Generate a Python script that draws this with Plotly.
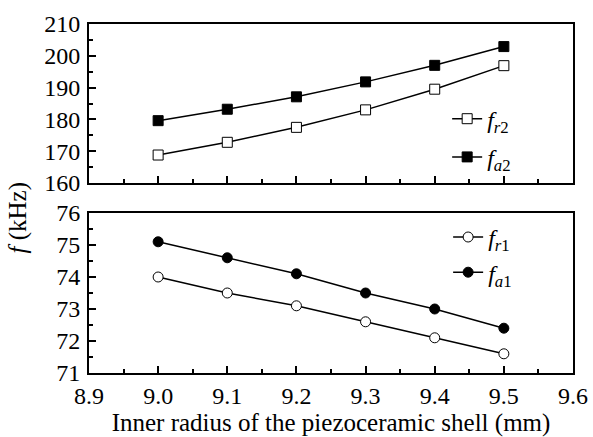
import plotly.graph_objects as go

radius = [9.0, 9.1, 9.2, 9.3, 9.4, 9.5]
fr2 = [168.8, 172.8, 177.5, 183.0, 189.5, 196.9]
fa2 = [179.6, 183.2, 187.1, 191.8, 197.0, 202.9]
fr1 = [74.0, 73.5, 73.1, 72.6, 72.1, 71.6]
fa1 = [75.1, 74.6, 74.1, 73.5, 73.0, 72.4]

FONT = "Liberation Serif"
fig = go.Figure()

def add(y, name, symbol, fill, xa, ya, leg, grp):
    fig.add_trace(go.Scatter(
        x=radius, y=y, name=name, mode="lines+markers",
        line=dict(color="black", width=1.5),
        marker=dict(symbol=symbol, size=10, color=fill, line=dict(color="black", width=1)),
        xaxis=xa, yaxis=ya, legend=leg, legendgroup=grp))

add(fr2, "<i>f</i><sub><i>r</i>2</sub>", "square", "white", "x", "y", "legend", "g1")
add(fa2, "<i>f</i><sub><i>a</i>2</sub>", "square", "black", "x", "y", "legend", "g2")
add(fr1, "<i>f</i><sub><i>r</i>1</sub>", "circle", "white", "x2", "y2", "legend2", "g3")
add(fa1, "<i>f</i><sub><i>a</i>1</sub>", "circle", "black", "x2", "y2", "legend2", "g4")

def axis_common():
    return dict(showline=True, linecolor="black", linewidth=2, mirror=True,
                ticks="inside", ticklen=7, tickwidth=1.5, tickcolor="black",
                showgrid=False, zeroline=False, automargin=False,
                tickfont=dict(family=FONT, size=24, color="black"))

def minor(d):
    return dict(dtick=d, ticks="inside", ticklen=4, tickcolor="black", tickwidth=1.5)

fig.update_layout(
    width=593, height=437,
    margin=dict(l=89, r=20, t=24, b=64, autoexpand=False),
    paper_bgcolor="white", plot_bgcolor="white",
    font=dict(family=FONT, color="black", size=24),
    xaxis=dict(domain=[0, 1], range=[8.9, 9.6], anchor="y", dtick=0.1, showticklabels=False,
               minor=minor(0.05), **axis_common()),
    yaxis=dict(domain=[0.5444, 1], range=[160, 210], anchor="x", dtick=10,
               minor=minor(5), ticklabelstandoff=2, **axis_common()),
    xaxis2=dict(domain=[0, 1], range=[8.9, 9.6], anchor="y2", dtick=0.1, tickformat=".1f",
                minor=minor(0.05), ticklabelstandoff=0,
                title=dict(text="Inner radius of the piezoceramic shell (mm)",
                           font=dict(family=FONT, size=25, color="black"), standoff=8),
                **axis_common()),
    yaxis2=dict(domain=[0, 0.4585], range=[71, 76], anchor="x2", dtick=1,
                minor=minor(0.5), ticklabelstandoff=2, **axis_common()),
    legend=dict(x=0.740, y=0.792, xanchor="left", yanchor="top", bgcolor="rgba(0,0,0,0)",
                font=dict(family=FONT, size=24, color="black"), tracegroupgap=4),
    legend2=dict(x=0.742, y=0.453, xanchor="left", yanchor="top", bgcolor="rgba(0,0,0,0)",
                 font=dict(family=FONT, size=24, color="black"), tracegroupgap=1),
    annotations=[dict(text="<i>f</i> (kHz)", xref="paper", yref="paper",
                      x=-0.147, y=0.445, xanchor="center", yanchor="middle", textangle=-90,
                      showarrow=False, font=dict(family=FONT, size=25, color="black"))],
)

fig.write_html("out.html", config={"displayModeBar": False},
               post_script="document.body.style.margin='0';")
